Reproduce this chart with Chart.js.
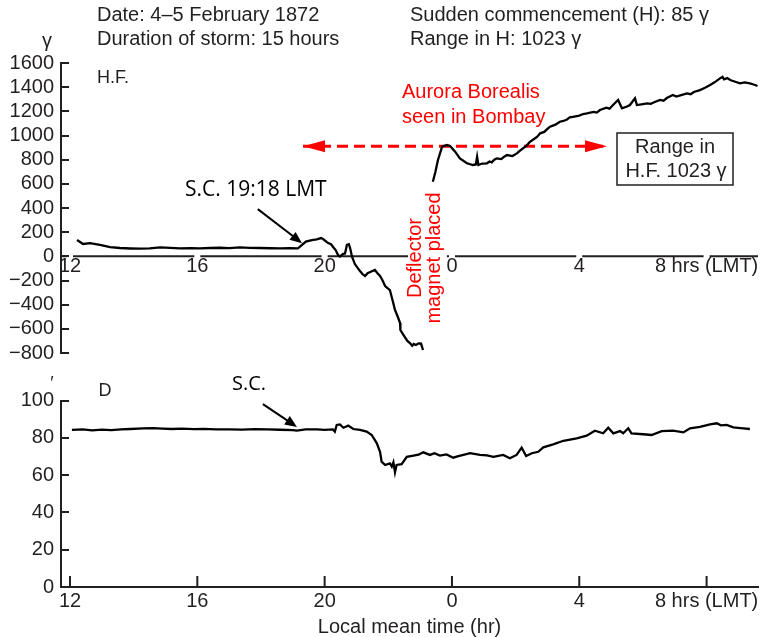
<!DOCTYPE html>
<html>
<head>
<meta charset="utf-8">
<script src="https://cdn.jsdelivr.net/npm/chart.js@4.4.1/dist/chart.umd.min.js"></script>
<style>
    body { margin: 0; background: #fff; }
    #top { position: absolute; left: 0; top: 0; }
    #bottom { position: absolute; left: 0; top: 372px; }
</style>
</head>
<body>
<div id="top"><canvas id="hf" width="761" height="372"></canvas></div>
<div id="bottom"><canvas id="dec" width="761" height="265"></canvas></div>
<script>
// Osa x: hodiny (LMT), 24 = půlnoc
const xTicks = [12, 16, 20, 24, 28, 32];
const xTickLabels = ['12', '16', '20', '0', '4', '8 hrs (LMT)'];
const xMin = 11.717;
const xMax = 33.615;

// Horní panel H.F. (γ)
const hfTicks = [-800, -600, -400, -200, 0, 200, 400, 600, 800, 1000, 1200, 1400, 1600];
const hfHours = [12.22, 12.41, 12.63, 12.94, 13.26, 13.57, 13.9, 14.2, 14.5, 14.83, 15.15, 15.46, 15.8, 16.08, 16.4, 16.71, 17.0, 17.34, 17.65, 17.97, 18.3, 18.6, 18.9, 19.16, 19.29, 19.41, 19.6, 19.75, 19.89, 19.95, 20.11, 20.2, 20.26, 20.35, 20.42, 20.48, 20.58, 20.64, 20.7, 20.76, 20.8, 20.86, 20.95, 21.11, 21.2, 21.27, 21.35, 21.43, 21.58, 21.66, 21.74, 21.82, 21.9, 22.05, 22.15, 22.21, 22.3, 22.37, 22.38, 22.45, 22.52, 22.6, 22.68, 22.75, 22.8, 22.87, 22.95, 23.03, 23.09,
    23.25,
    23.4, 23.48, 23.56, 23.69, 23.84, 23.94, 24.1, 24.25, 24.47, 24.66, 24.75, 24.79, 24.83, 24.95, 25.1, 25.18, 25.25, 25.33, 25.41, 25.55, 25.64, 25.73, 25.9, 26.04, 26.12, 26.23, 26.34, 26.45, 26.6, 26.68, 26.77, 26.9, 27.0, 27.08, 27.25, 27.39, 27.5, 27.6, 27.7, 27.8, 28.0, 28.12, 28.24, 28.45, 28.55, 28.65, 28.85, 28.95, 29.06, 29.22, 29.34, 29.5, 29.59, 29.75, 29.81, 30.0, 30.13, 30.25, 30.35, 30.54, 30.65, 30.75, 30.94, 31.05, 31.15, 31.38, 31.5, 31.6, 31.79, 31.95, 32.11, 32.25, 32.42, 32.5, 32.55, 32.65, 32.74, 32.9, 33.05, 33.2, 33.36, 33.5, 33.6];
const hfValues = [135, 102, 110, 94, 77, 69, 65, 63, 66, 74, 70, 66, 68, 66, 69, 71, 68, 74, 70, 69, 67, 66, 68, 66, 94, 122, 135, 140, 151, 143, 110, 100, 79, 50, 11, -2, 20, 23, 94, 100, 69, -3, -64, -122, -150, -163, -140, -130, -113, -140, -163, -200, -246, -279, -380, -444, -502, -552, -610, -640, -668, -700, -718, -740, -725, -734, -720, -722, -775,
    null,
    617, 700, 797, 907, 921, 913, 866, 811, 770, 756, 760, 824, 756, 768, 770, 785, 778, 800, 811, 805, 825, 838, 830, 852, 870, 894, 915, 948, 975, 990, 1018, 1030, 1055, 1073, 1090, 1114, 1120, 1130, 1150, 1155, 1165, 1178, 1183, 1195, 1190, 1211, 1230, 1222, 1252, 1294, 1225, 1240, 1252, 1308, 1252, 1260, 1266, 1262, 1275, 1294, 1288, 1310, 1335, 1322, 1330, 1349, 1342, 1360, 1376, 1395, 1418, 1440, 1473, 1485, 1465, 1475, 1459, 1445, 1432, 1440, 1432, 1420, 1410];

// Červená šipka "Aurora Borealis"
const auroraLevel = 912;
const auroraFrom = 19.32;
const auroraTo = 28.87;
// Mezera v nulové čáře pod svislým textem
const zeroGap = [22.62, 23.84];
// Šipka S.C. v horním panelu [hodina, hodnota]
const hfScFrom = [17.9, 391];
const hfScTo = [19.29, 109];

// Dolní panel D (minuty)
const decTicks = [0, 20, 40, 60, 80, 100];
const decHours = [12.06, 12.4, 12.7, 13.0, 13.3, 13.6, 13.9, 14.3, 14.6, 14.9, 15.2, 15.5, 15.9, 16.2, 16.6, 17.0, 17.4, 17.8, 18.2, 18.6, 19.0, 19.13, 19.4, 19.76, 20.0, 20.26, 20.32, 20.38, 20.48, 20.59, 20.74, 20.9, 21.11, 21.32, 21.48, 21.64, 21.74, 21.79, 21.9, 22.05, 22.11, 22.16, 22.21, 22.26, 22.42, 22.58, 22.79, 22.95, 23.1, 23.31, 23.45, 23.62, 23.83, 24.04, 24.2, 24.36, 24.57, 24.88, 25.1, 25.3, 25.61, 25.82, 26.03, 26.19, 26.33, 26.51, 26.71, 26.87, 27.18, 27.5, 27.92, 28.23, 28.49, 28.75, 28.91, 29.07, 29.28, 29.38, 29.54, 29.64, 30.01, 30.27, 30.59, 30.95, 31.27, 31.48, 31.79, 32.11, 32.32, 32.45, 32.63, 32.84, 33.15, 33.36];
const decValues = [84.3, 84.6, 84.1, 84.5, 84.2, 84.6, 84.8, 85.1, 85.3, 85.0, 84.8, 85.0, 84.7, 84.9, 84.6, 84.6, 84.5, 84.7, 84.6, 84.4, 84.2, 83.9, 84.6, 84.6, 84.3, 84.6, 83.4, 87.0, 87.3, 85.5, 86.6, 84.8, 84.3, 83.4, 81.6, 77.1, 72.6, 67.3, 65.5, 66.4, 64.6, 66.9, 61.6, 65.5, 65.9, 69.9, 70.5, 71.0, 72.3, 70.9, 71.8, 70.5, 71.2, 69.4, 70.2, 70.9, 71.8, 70.9, 70.6, 69.9, 70.9, 69.1, 70.9, 74.8, 70.3, 71.8, 72.6, 75.0, 76.6, 78.5, 79.8, 81.2, 83.9, 82.5, 85.5, 82.5, 83.7, 82.5, 85.2, 82.5, 82.0, 81.6, 83.7, 83.9, 83.0, 85.2, 86.0, 87.3, 87.9, 86.8, 87.0, 85.7, 85.2, 84.8];
const decScFrom = [18.06, 98.2];
const decScTo = [19.13, 85.9];

const axisColor = '#231f20';
const red = '#ff0000';
Chart.defaults.font.family = '"Liberation Sans", Arial, sans-serif';
Chart.defaults.color = axisColor;

function toPoints(xs, ys) {
    return xs.map((x, i) => ({ x: x, y: ys[i] }));
}

function arrowHead(ctx, tipX, tipY, fromX, fromY, len, half) {
    const a = Math.atan2(tipY - fromY, tipX - fromX);
    ctx.save();
    ctx.translate(tipX, tipY);
    ctx.rotate(a);
    ctx.beginPath();
    ctx.moveTo(0, 0);
    ctx.lineTo(-len, -half);
    ctx.lineTo(-len, half);
    ctx.closePath();
    ctx.fill();
    ctx.restore();
}

// Černá šipka v datových souřadnicích
function blackArrow(chart, from, to) {
    const ctx = chart.ctx;
    const xs = chart.scales.x, ys = chart.scales.y;
    const x1 = xs.getPixelForValue(from[0]), y1 = ys.getPixelForValue(from[1]);
    const x2 = xs.getPixelForValue(to[0]), y2 = ys.getPixelForValue(to[1]);
    const a = Math.atan2(y2 - y1, x2 - x1);
    ctx.save();
    ctx.strokeStyle = '#000';
    ctx.fillStyle = '#000';
    ctx.lineWidth = 2;
    ctx.beginPath();
    ctx.moveTo(x1, y1);
    ctx.lineTo(x2 - 10 * Math.cos(a), y2 - 10 * Math.sin(a));
    ctx.stroke();
    arrowHead(ctx, x2, y2, x1, y1, 12, 5);
    ctx.restore();
}

// Krátké tiky směrem dovnitř grafu
function innerTicks(chart, withX) {
    const ctx = chart.ctx;
    const area = chart.chartArea;
    ctx.save();
    ctx.strokeStyle = axisColor;
    ctx.lineWidth = 2;
    ctx.beginPath();
    chart.scales.y.ticks.forEach(t => {
        const y = Math.round(chart.scales.y.getPixelForValue(t.value));
        ctx.moveTo(area.left, y);
        ctx.lineTo(area.left + 8, y);
    });
    if (withX) {
        chart.scales.x.ticks.forEach(t => {
            const x = chart.scales.x.getPixelForValue(t.value);
            ctx.moveTo(x, area.bottom);
            ctx.lineTo(x, area.bottom - 11);
        });
    }
    ctx.stroke();
    ctx.restore();
}

function text(ctx, str, x, y, font, color, align) {
    ctx.font = font;
    ctx.fillStyle = color;
    ctx.textAlign = align || 'left';
    ctx.textBaseline = 'middle';
    ctx.fillText(str, x, y);
}

const hfDecor = {
    id: 'hfDecor',
    beforeDatasetsDraw(chart) {
        // Nulová čára s mezerami u popisků
        const ctx = chart.ctx;
        const area = chart.chartArea;
        const xs = chart.scales.x;
        const y0 = chart.scales.y.getPixelForValue(0);
        const cuts = xTicks.map(t => [xs.getPixelForValue(t) - 3, xs.getPixelForValue(t) + 3]);
        cuts.push([xs.getPixelForValue(zeroGap[0]), xs.getPixelForValue(zeroGap[1])]);
        cuts.sort((a, b) => a[0] - b[0]);
        ctx.save();
        ctx.strokeStyle = axisColor;
        ctx.lineWidth = 2;
        ctx.beginPath();
        let start = area.left;
        cuts.forEach(c => {
            if (c[0] > start) {
                ctx.moveTo(start, y0);
                ctx.lineTo(c[0], y0);
            }
            start = Math.max(start, c[1]);
        });
        if (start < area.right) {
            ctx.moveTo(start, y0);
            ctx.lineTo(area.right, y0);
        }
        ctx.stroke();
        ctx.restore();
        innerTicks(chart, false);
    },
    afterDatasetsDraw(chart) {
        const ctx = chart.ctx;
        const xs = chart.scales.x, ys = chart.scales.y;

        // Hroty červené šipky
        const ay = ys.getPixelForValue(auroraLevel);
        const ax1 = xs.getPixelForValue(auroraFrom);
        const ax2 = xs.getPixelForValue(auroraTo);
        ctx.save();
        ctx.fillStyle = red;
        arrowHead(ctx, ax1, ay, ax2, ay, 22, 6);
        arrowHead(ctx, ax2, ay, ax1, ay, 22, 6);
        ctx.restore();

        blackArrow(chart, hfScFrom, hfScTo);

        ctx.save();
        const f20 = '20px "Liberation Sans", Arial, sans-serif';
        text(ctx, 'Date: 4\u20135 February 1872', 97, 15, f20, axisColor);
        text(ctx, 'Duration of storm: 15 hours', 97, 39, f20, axisColor);
        text(ctx, 'Sudden commencement (H): 85 \u03b3', 410, 15, f20, axisColor);
        text(ctx, 'Range in H: 1023 \u03b3', 410, 39, f20, axisColor);
        text(ctx, '\u03b3', 47, 41, f20, axisColor, 'center');
        text(ctx, 'H.F.', 97, 78, '18px "Liberation Sans", Arial, sans-serif', axisColor);
        text(ctx, 'S.C. 19:18 LMT', 185, 190, '21px "Open Sans", sans-serif', '#000');
        text(ctx, 'Aurora Borealis', 402, 92, f20, red);
        text(ctx, 'seen in Bombay', 402, 117, f20, red);

        // Rámeček s rozsahem
        ctx.strokeStyle = axisColor;
        ctx.lineWidth = 1.5;
        ctx.fillStyle = '#fff';
        ctx.fillRect(617, 133, 116, 52);
        ctx.strokeRect(617, 133, 116, 52);
        text(ctx, 'Range in', 675, 147, f20, axisColor, 'center');
        text(ctx, 'H.F. 1023 \u03b3', 676, 171, f20, axisColor, 'center');

        // Svislý text
        ctx.translate(415, 258);
        ctx.rotate(-Math.PI / 2);
        text(ctx, 'Deflector', 0, 0, f20, red, 'center');
        text(ctx, 'magnet placed', 0, 19, f20, red, 'center');
        ctx.restore();
    }
};

const decDecor = {
    id: 'decDecor',
    afterDatasetsDraw(chart) {
        const ctx = chart.ctx;
        innerTicks(chart, true);
        blackArrow(chart, decScFrom, decScTo);
        ctx.save();
        text(ctx, '\u2032', 52, 12, '18px "Liberation Sans", Arial, sans-serif', axisColor, 'center');
        text(ctx, 'D', 105, 19, '18px "Liberation Sans", Arial, sans-serif', axisColor, 'center');
        text(ctx, 'S.C.', 232, 12, '20px "Open Sans", sans-serif', '#000');
        ctx.restore();
    }
};

function minus(v) {
    return v < 0 ? '\u2212' + Math.abs(v) : String(v);
}

new Chart(document.getElementById('hf'), {
    type: 'line',
    data: {
        datasets: [{
            data: toPoints(hfHours, hfValues),
            borderColor: '#000',
            borderWidth: 2.3,
            pointRadius: 0,
            tension: 0,
            spanGaps: false
        }, {
            data: [{ x: auroraFrom, y: auroraLevel }, { x: auroraTo, y: auroraLevel }],
            borderColor: red,
            borderWidth: 3,
            borderDash: [11, 6],
            pointRadius: 0
        }]
    },
    options: {
        responsive: false,
        animation: false,
        events: [],
        layout: { padding: { top: 63, bottom: 19, left: 0, right: 3 } },
        plugins: { legend: { display: false }, tooltip: { enabled: false } },
        scales: {
            x: {
                type: 'linear',
                min: xMin,
                max: xMax,
                position: { y: 0 },
                border: { display: false },
                grid: { display: false, drawTicks: false },
                afterBuildTicks: s => { s.ticks = xTicks.map(v => ({ value: v })); },
                ticks: {
                    autoSkip: false,
                    maxRotation: 0,
                    padding: 0,
                    font: { size: 20, lineHeight: 1 },
                    color: axisColor,
                    callback: (v, i) => xTickLabels[i]
                }
            },
            y: {
                min: -800,
                max: 1600,
                afterBuildTicks: s => { s.ticks = hfTicks.map(v => ({ value: v })); },
                afterFit: s => { s.width = 61; },
                border: { display: true, color: axisColor, width: 2 },
                grid: { display: false, drawTicks: false },
                ticks: { autoSkip: false, padding: 7, font: { size: 20 }, color: axisColor, callback: v => minus(v) }
            }
        }
    },
    plugins: [hfDecor]
});

new Chart(document.getElementById('dec'), {
    type: 'line',
    data: {
        datasets: [{
            data: toPoints(decHours, decValues),
            borderColor: '#000',
            borderWidth: 2.3,
            pointRadius: 0,
            tension: 0
        }]
    },
    options: {
        responsive: false,
        animation: false,
        events: [],
        layout: { padding: { top: 28.7, bottom: 0, left: 0, right: 3 } },
        plugins: { legend: { display: false }, tooltip: { enabled: false } },
        scales: {
            x: {
                type: 'linear',
                min: xMin,
                max: xMax,
                position: 'bottom',
                afterBuildTicks: s => { s.ticks = xTicks.map(v => ({ value: v })); },
                afterFit: s => { s.height = 50; },
                border: { display: true, color: axisColor, width: 2 },
                grid: { display: false, drawTicks: false },
                ticks: {
                    autoSkip: false,
                    maxRotation: 0,
                    padding: 2,
                    font: { size: 20 },
                    color: axisColor,
                    callback: (v, i) => xTickLabels[i]
                },
                title: {
                    display: true,
                    text: 'Local mean time (hr)',
                    color: axisColor,
                    font: { size: 20, lineHeight: 1 },
                    padding: { top: 0, bottom: 0 }
                }
            },
            y: {
                min: 0,
                max: 100,
                afterBuildTicks: s => { s.ticks = decTicks.map(v => ({ value: v })); },
                afterFit: s => { s.width = 61; },
                border: { display: true, color: axisColor, width: 2 },
                grid: { display: false, drawTicks: false },
                ticks: { autoSkip: false, padding: 7, font: { size: 20 }, color: axisColor }
            }
        }
    },
    plugins: [decDecor]
});
</script>
</body>
</html>
